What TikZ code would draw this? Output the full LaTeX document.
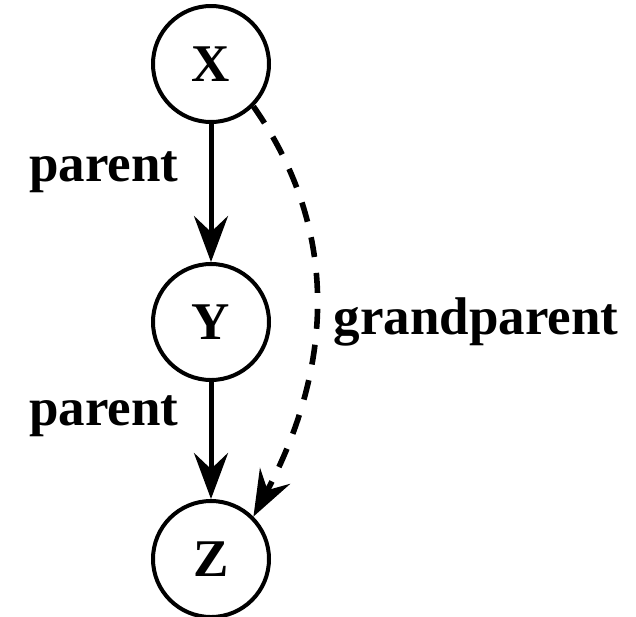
\documentclass[tikz,border=0pt]{standalone}
\usepackage{fontspec}
\setmainfont{Liberation Serif}
\usetikzlibrary{arrows.meta, positioning}

\begin{document}
\begin{tikzpicture}[
  x=0.5pt, y=-0.5pt,
  font=\fontsize{26.5}{30}\selectfont\bfseries,
  >={Stealth[length=23pt, width=17pt, inset=8pt]},
  var/.style={draw, circle, line width=2pt, minimum size=58pt, inner sep=0pt},
  arr/.style={->, line width=2.5pt},
  darr/.style={->, line width=2.8pt, dash pattern=on 10pt off 8pt},
  lbl/.style={inner sep=0pt},
  ]
\useasboundingbox (0,0) rectangle (636,616);
\node[var] (X) at (211,64) {X};
\node[var] (Y) at (211,322) {Y};
\node[var] (Z) at (211,559) {Z};
\node[lbl] (p1) at (104,172) {parent};
\node[lbl] (p2) at (104,416) {parent};
\node[lbl] (gp) at (476,322) {grandparent};
\draw[arr] (X) -- (Y);
\draw[arr] (Y) -- (Z);
\draw[darr] (X.-45) to[out=-55, in=62] (Z.45);
\end{tikzpicture}
\end{document}
